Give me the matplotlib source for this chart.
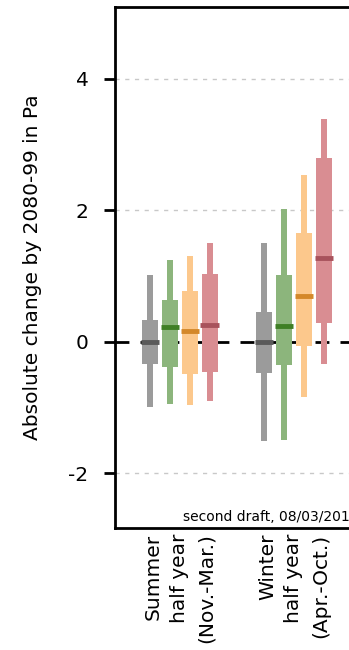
import numpy as np
import matplotlib
matplotlib.use("Agg")
import matplotlib.pyplot as plt
from matplotlib.lines import Line2D

# two seasons, four series each (gray, green, orange, red)
seasons = ["Summer\nhalf year\n(Nov.-Mar.)", "Winter\nhalf year\n(Apr.-Oct.)"]
series_colors = ["#9b9b9b", "#8cb57c", "#fcc88c", "#d98d92"]
median_colors = ["#5a5a5a", "#3f7f25", "#d4882a", "#a8525c"]

# rows = series, columns = seasons
whisker_low = np.array([[-0.99, -1.50],
                        [-0.94, -1.49],
                        [-0.96, -0.84],
                        [-0.90, -0.34]])
whisker_high = np.array([[1.01, 1.51],
                         [1.25, 2.02],
                         [1.31, 2.53],
                         [1.51, 3.39]])
box_low = np.array([[-0.34, -0.47],
                    [-0.38, -0.35],
                    [-0.49, -0.07],
                    [-0.46, 0.29]])
box_high = np.array([[0.33, 0.46],
                     [0.63, 1.01],
                     [0.78, 1.66],
                     [1.03, 2.79]])
medians = np.array([[0.00, 0.00],
                    [0.22, 0.24],
                    [0.16, 0.70],
                    [0.26, 1.27]])

fig = plt.figure(figsize=(3.49, 6.5), dpi=100)
left, bottom, height = 115 / 349, 1 - 528 / 650, 521 / 650
# the plot box runs off the right edge of the figure (cropped panel)
ax = fig.add_axes([left, bottom, 1 - left, height])

offsets = np.array([-1.5, -0.5, 0.5, 1.5]) * 0.175
x_groups = np.arange(len(seasons))
box_w = 0.145
whisk_w = 0.055

for i in range(4):
    xs = x_groups + offsets[i]
    ax.bar(xs, whisker_high[i] - whisker_low[i], bottom=whisker_low[i],
           width=whisk_w, color=series_colors[i], zorder=3)
    ax.bar(xs, box_high[i] - box_low[i], bottom=box_low[i],
           width=box_w, color=series_colors[i], zorder=3)
    ax.hlines(medians[i], xs - box_w / 2 - 0.01, xs + box_w / 2 + 0.01,
              color=median_colors[i], lw=3.5, zorder=4)

ax.axhline(0, color="black", lw=2, ls=(0, (5, 4)), zorder=2)
for yv in [4, 2, -2]:
    ax.axhline(yv, color="#c8c8c8", lw=1, ls=(0, (3, 4)), zorder=1)

ax.set_ylim(-2.83, 5.09)
ax.set_xlim(-0.57, -0.57 + 234 / 114)
ax.set_yticks([4, 2, 0, -2])
ax.set_yticklabels(["4", "2", "0", "-2"])
ax.set_xticks(x_groups)
ax.set_xticklabels(seasons, rotation=90, ha="center", va="top",
                   multialignment="right", fontsize=14.5, linespacing=1.5)
ax.tick_params(axis="x", length=0, pad=4)
ax.tick_params(axis="y", length=8, width=2, pad=11, labelsize=14.5)
ax.set_ylabel("Absolute change by 2080-99 in Pa", fontsize=14.5, labelpad=19)

ax.spines["left"].set_linewidth(2)
for s in ["right", "top", "bottom"]:
    ax.spines[s].set_visible(False)
# top and bottom frame lines, open to the right
for yf in [bottom, bottom + height]:
    fig.add_artist(Line2D([left, 1.02], [yf, yf], color="black", lw=2,
                          solid_capstyle="projecting"))

ax.text(0.03, -2.66, "second draft, 08/03/2014", fontsize=10, ha="left",
        va="center")

fig.savefig("out.png", dpi=100)
